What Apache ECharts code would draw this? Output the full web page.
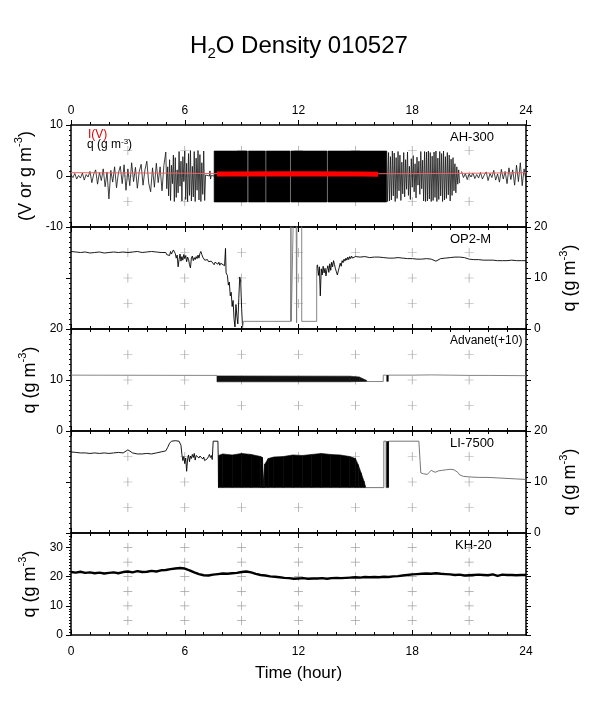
<!DOCTYPE html>
<html>
<head>
<meta charset="utf-8">
<script src="https://cdn.jsdelivr.net/npm/echarts@6/dist/echarts.min.js"></script>
<style>
  html, body { margin: 0; padding: 0; background: #fff; }
  #main { width: 598px; height: 708px; }
</style>
</head>
<body>
<div id="main"></div>
<script>
// H2O 密度 010527 —— 5 个仪器
var FONT = 'Liberation Sans, Arial, Helvetica, sans-serif';

// 横轴 (hour)
var xTicks = [0, 6, 12, 18, 24];
var crossX = [3, 6, 9, 12, 15, 18, 21];

// AH-300  q 迹线 (0h 起, 每 0.1h)
var ahQ1 = [0.2, -0.3, 0.5, -0.6, 0.1, -0.4, 0.6, -0.8, 0.3, -0.2,
            0.9, -1.3, 0.4, 1.2, -1.6, 0.7, -0.9, 1.4, -2.1, 0.8,
            -4.5, 1.1, -1.2, 1.8, -2.3, 0.6, 1.9, -1.5, 2.2, -2.8,
            1.4, -1.9, 2.6, -1.1, 1.7, -2.4, 0.9, 2.3, -1.8, 1.2,
            2.9, -1.4, -3.1, 1.6, -2.2, 2.5, -1.3, 1.8, -2.9, 2.1];
// 5.0h 起, 每 0.05h
var ahQ2 = [4.7, -2.5, 1.8, -3.9, 3.2, -4.8, 2.1, -1.5, 4.1, -5.0,
            3.6, -4.2, 1.2, -3.3, 4.8, -2.0, 2.9, -4.9, 3.8, -1.1,
            4.9, -4.6, 2.5, -5.0, 4.4, -3.8, 5.0, -4.9, 1.9, -4.1,
            4.8, -5.0, 3.5, -2.8, 5.0, -4.7, 4.2, -5.0, 2.6, -3.6,
            4.9, -4.8, 0.2];
var ahQ3 = [[7.15, 0.1], [7.3, 0.0], [7.33, 1.0], [7.36, -0.6], [7.4, 0.1], [7.55, 0.0]];
// 饱和带 [t, 下, 上]
var ahBand = [
  [[7.55, -5.1, 4.9], [9.3, -5.1, 4.9]],
  [[9.36, -5.1, 4.9], [10.25, -5.1, 4.9]],
  [[10.3, -5.1, 4.9], [11.55, -5.1, 4.9]],
  [[11.6, -5.1, 4.9], [13.5, -5.1, 4.9]],
  [[13.55, -5.1, 4.9], [16.65, -5.1, 4.9]]
];
// 16.65h 起, 每 0.05h
var ahQ4 = [4.8, -5.0, 4.6, -4.9, 3.8, -4.7, 4.9, -3.9, 4.5, -5.0,
            3.6, -4.4, 4.8, -2.9, 4.1, -4.8, 2.7, -3.5, 4.6, -4.1,
            3.2, -2.6, 4.7, -3.8, 1.9, -4.6, 3.4, -2.2, 4.0, -3.1,
            2.4, -4.3, 3.7, -1.8, 2.9, -3.6, 4.8, -2.5, 3.1, -4.9,
            4.8, -5.0, 4.7, -4.9, 4.9, -4.5, 4.6, -5.0, 3.9, -4.8,
            4.7, -4.2, 4.9, -5.0, 3.5, -4.6, 4.8, -3.9, 4.4, -5.0,
            4.9, -4.7, 3.8, -4.4, 4.6, -3.7, 4.1, -4.9, 3.3, -3.8,
            3.6, -2.9, 2.4, -3.3, 1.8, -1.6, 1.2, -1.4];
// 20.6h 起, 每 0.1h
var ahQ5 = [0.9, -0.3, 0.5, -0.7, 0.4, -0.2, 0.6, -0.5, 0.3, -0.4,
            0.7, -0.6, 0.2, 0.8, -0.9, 0.5, -0.3, 1.1, -0.8, 0.4,
            -1.2, 1.3, -0.6, 0.9, -1.5, 1.6, -0.7, 1.2, -1.8, 2.1,
            -1.1, 2.6, -1.9, 1.4, -0.9];
// I(V)
var ahI1 = [[0, 0.65], [3, 0.6], [6, 0.55], [7.7, 0.45]];
var ahI2 = [[7.7, 0.4], [12, 0.45], [15.4, 0.4], [16.2, 0.35]];
var ahI3 = [[16.2, 0.45], [20, 0.5], [24, 0.65]];

// OP2-M
var op2A = [15.2, 15.1, 15.0, 15.1, 14.9, 15.0, 15.1, 14.9, 15.0, 15.1,
            15.0, 15.1, 15.0, 15.1, 15.2, 15.0, 15.1, 15.2, 15.1, 15.0];   // 0h, 每 0.25h
var op2B = [15.0, 14.6, 14.3, 14.8, 14.4, 15.2, 14.7, 15.0, 15.5, 15.7,
            14.8, 13.9, 14.5, 12.2, 13.6, 14.7, 13.3, 14.2, 13.5, 14.6,
            13.8, 14.4, 13.2, 14.1, 13.7, 12.6, 12.0, 13.9, 14.3, 13.4,
            14.0, 13.6, 14.2, 13.8, 14.5, 13.9, 14.8, 15.2, 14.6, 14.1,
            13.9, 13.5, 13.8, 13.4, 13.6, 13.2, 13.5, 12.9, 13.3, 13.0,
            13.2, 12.6, 13.1, 12.8, 13.0, 12.7, 13.1, 12.5, 12.9, 12.7,
            12.8];                                                         // 5h, 每 0.05h
var op2C = [[8.1, 12.4], [8.15, 15.8], [8.18, 11.0], [8.25, 10.5], [8.3, 8.6], [8.35, 9.2],
            [8.4, 6.5], [8.45, 7.2], [8.5, 4.4], [8.55, 5.6], [8.6, 2.0], [8.65, 0.4],
            [8.7, 4.8], [8.75, 2.5], [8.8, 1.0], [8.85, 6.0], [8.9, 10.2], [8.95, 9.4],
            [9.0, 4.0], [9.05, 0.3]];
var op2Gray = [[9.05, 0.3], [9.1, 1.5], [11.58, 1.5], [11.6, 21], [11.62, 1.5], [11.7, 1.5],
               [11.72, 21], [11.88, 21], [11.9, 1.2], [11.92, 21], [12.17, 21], [12.17, 1.5],
               [12.96, 1.5], [12.96, 12.5]];
var op2D = [12.6, 10.5, 12.2, 6.5, 11.8, 10.6, 12.3, 11.0, 11.9, 10.4,
            11.7, 12.4, 11.1, 12.8, 11.5, 13.1, 12.2, 13.4, 12.6, 11.8,
            11.2, 10.6, 11.4, 12.1, 12.9, 12.3, 13.4, 13.0, 13.7, 13.3,
            13.9, 13.5, 14.1, 13.6, 14.2, 13.8, 14.3, 13.9, 14.1, 14.0,
            14.2];                                                         // 13h, 每 0.05h
var op2E = [14.1, 14.2, 14.0, 14.1, 14.1, 14.0, 13.9,
            13.9, 14.0, 13.9, 13.8, 13.8, 13.7, 13.7, 13.8,
            13.7, 13.3, 13.8, 13.9, 14.0, 14.1, 14.1, 14.0,
            13.7, 13.6, 13.6, 13.5, 13.5, 13.5, 13.4, 13.4,
            13.4, 13.5, 13.4, 13.4, 13.4];                                 // 15.25h, 每 0.25h

// Advanet(+10)
var advA = [[0, 10.95], [7.7, 10.9]];
var advBand = [[[7.7, 9.65, 10.8], [14.7, 9.65, 10.75], [15.2, 9.7, 10.6], [15.6, 9.7, 9.9]]];
var advB = [[15.6, 9.7], [16.47, 9.7], [16.47, 10.95], [16.66, 10.95], [16.68, 9.7], [16.7, 10.95],
            [18, 10.95], [19, 11.0], [20, 10.95], [21, 10.9], [22, 10.9], [24, 10.85]];
var advTick = [[16.7, 9.7], [16.7, 10.95]];

// LI-7500
var liA = [15.9, 15.8, 15.7, 15.7, 15.6, 15.7, 15.6, 15.7, 15.6, 15.7,
           15.8, 15.7, 16.3, 15.7, 15.5, 15.5, 15.6, 15.5, 15.7, 15.9, 16.1];  // 0h, 每 0.25h
var liB = [[5.1, 16.8], [5.2, 17.6], [5.3, 18.0], [5.5, 18.1], [5.7, 18.0], [5.8, 17.2]];
var liC = [15.4, 14.2, 15.0, 13.6, 14.7, 12.1, 14.5, 15.3, 14.0, 15.1,
           14.6, 15.4, 14.8, 15.6, 14.3, 15.2, 14.9, 15.5, 14.7, 15.1,
           14.8, 15.3, 14.5, 14.9, 14.2, 13.9, 14.1, 14.6, 15.0, 15.4,
           14.8, 15.2, 14.4, 18.0];                                        // 5.85h, 每 0.05h
var liD = [[7.75, 18.0], [7.77, 14.0], [7.78, 8.9]];
var liBand = [[[7.78, 8.9, 15.2], [8.0, 8.9, 15.5], [8.5, 8.9, 15.3], [9.0, 8.9, 15.6], [9.5, 8.9, 15.4],
               [10.0, 8.9, 15.0], [10.1, 8.9, 14.8], [10.15, 8.9, 10.2], [10.22, 8.9, 13.5],
               [10.4, 8.9, 14.6], [10.7, 8.9, 14.9], [11.2, 8.9, 15.0], [11.7, 8.9, 15.3],
               [12.2, 8.9, 15.2], [12.7, 8.9, 15.4], [13.2, 8.9, 15.6], [13.7, 8.9, 15.4],
               [14.2, 8.9, 15.3], [14.7, 8.9, 15.0], [15.0, 8.9, 14.6], [15.15, 8.9, 13.4],
               [15.3, 8.9, 11.8], [15.45, 8.9, 10.2], [15.55, 8.9, 8.9]]];
var liGray = [[15.55, 8.9], [16.5, 8.9], [16.5, 18.0], [16.62, 18.0], [16.62, 8.9], [16.75, 8.9],
              [16.75, 18.0], [18.35, 18.0], [18.45, 11.8]];
var liE = [11.8, 11.6, 11.7, 11.5, 11.9, 12.3, 12.4, 11.9, 11.7, 12.2,
           12.5, 12.3, 12.6, 12.4, 12.7, 12.5, 12.8, 12.4, 12.6, 11.9,
           11.4, 11.2, 11.1];                                              // 18.5h, 每 0.1h
var liF = [11.0, 10.9, 10.9, 10.8, 10.7, 10.6, 10.5];                      // 21h, 每 0.5h
var liTick = [[16.7, 8.9], [16.7, 18.0]];

// KH-20 (0h, 每 0.25h)
var khQ = [21.6, 21.4, 21.7, 21.3, 21.5, 21.2, 21.4, 21.1, 21.3, 21.5, 21.2, 21.6,
           21.8, 21.5, 21.9, 21.6, 21.7, 22.0, 21.8, 22.2, 22.3, 22.6, 22.8, 23.0,
           22.8, 22.2, 21.5, 20.9, 20.5, 20.4, 20.7, 20.9, 21.1, 21.0, 21.2, 21.3,
           21.6, 21.8, 21.5, 21.0, 20.6, 20.4, 20.1, 20.0, 19.8, 19.6, 19.5, 19.3,
           19.4, 19.5, 19.3, 19.4, 19.4, 19.5, 19.3, 19.5, 19.6, 19.5, 19.6, 19.7,
           19.8, 19.7, 19.9, 19.8, 19.9, 19.8, 20.0, 19.9, 20.1, 20.2, 20.4, 20.6,
           20.8, 20.9, 21.0, 21.1, 21.0, 21.2, 21.0, 20.9, 20.8, 20.6, 20.7, 20.4,
           20.5, 20.6, 20.7, 20.6, 20.5, 20.8, 20.3, 20.7, 20.6, 20.6, 20.5, 20.6, 20.6];

// 各面板纵轴
var panels = [
  { min: -10, max: 10, side: 'left',  crossY: [-5, 0, 5], name: '{a|(V or g m}{b|-3}{a|)}', gap: 33, label: 'AH-300', lab: 13 },
  { min: 0,   max: 20, side: 'right', crossY: [5, 10, 15], name: '{a|q (g m}{b|-3}{a|)}', gap: 30, label: 'OP2-M', lab: 13 },
  { min: 0,   max: 20, side: 'left',  crossY: [5, 10, 15], name: '{a|q (g m}{b|-3}{a|)}', gap: 25, label: 'Advanet(+10)', lab: 12 },
  { min: 0,   max: 20, side: 'right', crossY: [5, 10, 15], name: '{a|q (g m}{b|-3}{a|)}', gap: 30, label: 'LI-7500', lab: 13 },
  { min: 0,   max: 35, side: 'left',  crossY: [5, 10, 15, 20, 25, 30], name: '{a|q (g m}{b|-3}{a|)}', gap: 25, label: 'KH-20', lab: 13 }
];

var TOP0 = 125, H = 102, LEFT = 71, W = 455;

function seg(t0, dt, vals) {
  var out = [];
  for (var i = 0; i < vals.length; i++) out.push([+(t0 + i * dt).toFixed(3), vals[i]]);
  return out;
}
// 包络 -> 梯形
function bandItems(envs) {
  var out = [];
  envs.forEach(function (e) {
    for (var i = 0; i < e.length - 1; i++) out.push(e[i].concat(e[i + 1]));
  });
  return out;
}

var nameRich = {
  a: { fontSize: 18, fontFamily: FONT, color: '#000', lineHeight: 24, verticalAlign: 'middle' },
  b: { fontSize: 11, fontFamily: FONT, color: '#000', lineHeight: 24, verticalAlign: 'top' }
};

var grid = [], xAxis = [], yAxis = [], series = [], graphic = [];

panels.forEach(function (p, i) {
  grid.push({ left: LEFT, top: TOP0 + i * H, width: W, height: H });
  var axisLine = { onZero: false, lineStyle: { color: '#000', width: 1.5 } };
  ['bottom', 'top'].forEach(function (pos) {
    var showLab = (pos === 'bottom' && i === 4) || (pos === 'top' && i === 0);
    xAxis.push({
      gridIndex: i, type: 'value', min: 0, max: 24, interval: 6, position: pos,
      axisLine: axisLine,
      axisTick: { inside: !(pos === 'top' && i === 0), length: 5, lineStyle: { color: '#000' } },
      minorTick: { show: true, splitNumber: 6, length: 3, lineStyle: { color: '#000' } },
      splitLine: { show: false },
      axisLabel: { show: showLab, fontSize: 12, fontFamily: FONT, color: '#000', margin: pos === 'top' ? 8 : 11 },
      name: (pos === 'bottom' && i === 4) ? 'Time (hour)' : '',
      nameLocation: 'middle', nameGap: 30,
      nameTextStyle: { fontSize: 17, fontFamily: FONT, color: '#000' }
    });
  });
  ['left', 'right'].forEach(function (pos) {
    var lab = pos === p.side;
    yAxis.push({
      gridIndex: i, type: 'value', min: p.min, max: p.max, interval: 10, position: pos,
      axisLine: axisLine,
      axisTick: { inside: false, length: 5, lineStyle: { color: '#000' } },
      minorTick: { show: true, splitNumber: 10, length: 2, lineStyle: { color: '#000' } },
      splitLine: { show: false },
      axisLabel: {
        show: lab, fontSize: 12, fontFamily: FONT, color: '#000', margin: 8,
        formatter: function (v) { return v % 10 === 0 ? String(v) : ''; }
      },
      name: lab ? p.name : '', nameLocation: 'middle', nameRotate: 90, nameGap: p.gap,
      nameTextStyle: { rich: nameRich }
    });
  });
  // 网格十字
  var cr = [];
  crossX.forEach(function (x) { p.crossY.forEach(function (y) { cr.push([x, y]); }); });
  series.push({
    type: 'scatter', xAxisIndex: 2 * i, yAxisIndex: 2 * i, data: cr, silent: true, z: 1,
    symbol: 'path://M4.6,0H5.4V4.6H10V5.4H5.4V10H4.6V5.4H0V4.6H4.6Z', symbolSize: 9,
    itemStyle: { color: '#8a8a8a' }
  });
  graphic.push({
    type: 'text', left: i === 4 ? 455 : 450, top: TOP0 + i * H + 6,
    style: { text: p.label, fill: '#000', font: p.lab + 'px ' + FONT }
  });
});

function line(gi, data, color, width, z) {
  return {
    type: 'line', xAxisIndex: 2 * gi, yAxisIndex: 2 * gi, data: data, showSymbol: false,
    lineStyle: { color: color, width: width }, z: z || 3, silent: true
  };
}
function band(gi, envs, color) {
  return {
    type: 'custom', xAxisIndex: 2 * gi, yAxisIndex: 2 * gi, data: bandItems(envs), z: 2, silent: true,
    encode: { x: [0, 3], y: [1, 2, 4, 5] },
    renderItem: function (params, api) {
      var a = api.coord([api.value(0), api.value(2)]);
      var b = api.coord([api.value(3), api.value(5)]);
      var c = api.coord([api.value(3), api.value(4)]);
      var d = api.coord([api.value(0), api.value(1)]);
      return { type: 'polygon', shape: { points: [a, b, c, d] }, style: { fill: color, stroke: color, lineWidth: 0.6 } };
    }
  };
}

// AH-300
series.push(line(0, seg(0, 0.1, ahQ1).concat(seg(5, 0.05, ahQ2), ahQ3), '#111', 0.8));
series.push(band(0, ahBand, '#000'));
series.push(line(0, seg(16.65, 0.05, ahQ4), '#111', 0.8));
series.push(line(0, seg(20.6, 0.1, ahQ5), '#111', 0.8));
series.push(line(0, ahI1, '#ee6060', 1, 5));
series.push(line(0, ahI2, '#ff0000', 5, 5));
series.push(line(0, ahI3, '#ee6060', 1, 5));
// OP2-M
series.push(line(1, seg(0, 0.25, op2A).concat(seg(5, 0.05, op2B), op2C), '#000', 0.9));
series.push(line(1, op2Gray, '#777', 0.9));
series.push(line(1, seg(13, 0.05, op2D).concat(seg(15.25, 0.25, op2E)), '#000', 0.9));
// Advanet
series.push(line(2, advA, '#777', 0.9));
series.push(band(2, advBand, '#111'));
series.push(line(2, advB, '#777', 0.9));
series.push(line(2, advTick, '#000', 2));
// LI-7500
series.push(line(3, seg(0, 0.25, liA).concat(liB, seg(5.85, 0.05, liC), liD), '#000', 0.9));
series.push(band(3, liBand, '#000'));
series.push(line(3, liGray.concat(seg(18.5, 0.1, liE), seg(21, 0.5, liF)), '#666', 0.9));
series.push(line(3, liTick, '#000', 2.5));
// KH-20
series.push(line(4, seg(0, 0.25, khQ), '#000', 2.4));

// 图例文字
graphic.push({ type: 'text', left: 88, top: 129, style: { text: 'I(V)', fill: '#e00000', font: '12px ' + FONT } });
graphic.push({
  type: 'text', left: 87, top: 138,
  style: {
    text: '{a|q (g m}{b|-3}{a|)}', fill: '#000',
    rich: {
      a: { fontSize: 12, fontFamily: FONT, lineHeight: 14, verticalAlign: 'middle' },
      b: { fontSize: 8, fontFamily: FONT, lineHeight: 14, verticalAlign: 'top' }
    }
  }
});

var myChart = echarts.init(document.getElementById('main'));
myChart.setOption({
  animation: false,
  backgroundColor: '#fff',
  title: {
    text: '{n|H}{s|2}{n|O Density 010527}',
    left: 'center', top: 26,
    textStyle: {
      fontWeight: 'normal',
      rich: {
        n: { fontSize: 24, fontFamily: FONT, color: '#000', fontWeight: 'normal', lineHeight: 30, verticalAlign: 'middle' },
        s: { fontSize: 15, fontFamily: FONT, color: '#000', fontWeight: 'normal', lineHeight: 30, verticalAlign: 'bottom' }
      }
    }
  },
  grid: grid,
  xAxis: xAxis,
  yAxis: yAxis,
  series: series,
  graphic: graphic
});
</script>
</body>
</html>
